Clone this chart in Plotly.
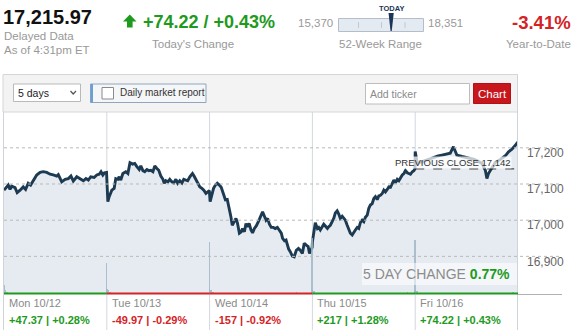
import plotly.graph_objects as go

# ---------------- data ----------------
days = ["Mon 10/12", "Tue 10/13", "Wed 10/14", "Thu 10/15", "Fri 10/16"]
day_change = [47.37, -49.97, -157, 217, 74.22]
day_pct = [0.28, -0.29, -0.92, 1.28, 0.43]

session_minutes = 390

mon_min = [0, 11, 16, 23, 29, 42, 50, 61, 73, 82, 92, 101, 111, 124, 137, 149, 162, 175, 187, 200,
           206, 219, 232, 244, 254, 263, 276, 289, 301, 311, 320, 329, 342, 352, 361, 368, 375, 381, 389]
mon_px = [17083, 17092, 17097, 17085, 17094, 17090, 17076, 17083, 17092, 17085, 17102, 17097, 17109, 17125,
          17132, 17134, 17132, 17127, 17125, 17122, 17126, 17106, 17113, 17115, 17122, 17108, 17120, 17113,
          17109, 17115, 17111, 17120, 17118, 17125, 17127, 17134, 17125, 17131, 17132]

tue_min = [4, 9, 19, 28, 34, 42, 47, 53, 61, 72, 80, 88, 98, 106, 114, 123, 129, 137, 144, 152,
           159, 167, 175, 182, 190, 197, 205, 213, 218, 224, 232, 239, 247, 254, 262, 269, 277, 285, 292, 300,
           307, 315, 325, 331, 338, 345, 353, 361, 368, 376, 383, 389]
tue_px = [17051, 17065, 17083, 17088, 17115, 17113, 17120, 17111, 17129, 17134, 17129, 17159, 17155, 17157,
          17148, 17140, 17150, 17137, 17134, 17140, 17137, 17138, 17134, 17150, 17143, 17138, 17122, 17113,
          17102, 17109, 17106, 17113, 17106, 17103, 17113, 17102, 17109, 17103, 17113, 17111, 17109, 17120,
          17129, 17122, 17113, 17102, 17092, 17088, 17083, 17074, 17078, 17082]

wed_min = [2, 9, 15, 22, 29, 37, 44, 52, 60, 67, 75, 81, 86, 94, 100, 106, 113, 120, 125, 132,
           138, 143, 150, 157, 163, 170, 177, 185, 190, 196, 201, 208, 214, 220, 227, 234, 242, 249, 257, 264,
           272, 277, 284, 290, 295, 300, 306, 314, 321, 329, 337, 344, 352, 359, 367, 374, 379, 389]
wed_px = [17051, 17074, 17088, 17097, 17102, 17097, 17091, 17074, 17056, 17057, 17033, 17009, 16986, 16998,
          17005, 16991, 16964, 16968, 16977, 16968, 16991, 16982, 16991, 16973, 16965, 16977, 16984, 16996,
          17005, 17014, 17023, 17011, 17000, 17005, 16989, 16980, 16980, 16977, 16980, 16973, 16964, 16950,
          16943, 16945, 16931, 16920, 16913, 16901, 16899, 16917, 16922, 16917, 16908, 16936, 16931, 16927,
          16908, 16925]

thu_min = [0, 8, 11, 19, 24, 30, 37, 43, 49, 57, 62, 68, 75, 81, 87, 94, 100, 106, 113, 119,
           125, 132, 138, 144, 151, 157, 163, 170, 176, 182, 189, 195, 201, 208, 214, 220, 227, 233, 239, 246,
           252, 258, 265, 271, 277, 284, 290, 296, 303, 309, 315, 322, 328, 334, 341, 347, 353, 360, 366, 372,
           379, 385, 389]
thu_px = [16940, 16973, 16993, 16977, 16980, 16973, 16984, 16989, 16984, 16977, 16982, 16986, 16996, 17005,
          17020, 17026, 17017, 17005, 17011, 17005, 17000, 16986, 16973, 16964, 16959, 16968, 16973, 16980,
          16977, 16993, 17000, 16996, 17008, 17014, 17033, 17042, 17046, 17060, 17065, 17057, 17067, 17069,
          17074, 17083, 17078, 17085, 17092, 17091, 17102, 17111, 17103, 17113, 17109, 17118, 17125, 17129,
          17137, 17131, 17129, 17127, 17134, 17137, 17142]

fri_min = [0, 8, 19, 38, 57, 76, 87, 101, 120, 133, 145, 152, 158, 178, 201, 224, 239, 253, 266, 272,
           278, 291, 304, 323, 335, 342, 354, 367, 380, 389]
fri_px = [17190, 17157, 17160, 17165, 17170, 17175, 17178, 17180, 17183, 17185, 17203, 17189, 17180, 17176,
          17172, 17168, 17163, 17157, 17138, 17115, 17129, 17143, 17160, 17168, 17174, 17178, 17189, 17196,
          17207, 17216]

# volume (relative units) per day: minute of session, volume
vol_min = [[0, 6, 12, 120, 250, 389], [0, 6, 12, 150, 300, 389], [0, 6, 12, 180, 330, 389],
           [0, 6, 140, 360, 389], [0, 6, 200, 370, 389]]
vol_val = [[20, 8, 5, 3, 3, 68], [11, 8, 5, 3, 3, 114], [11, 8, 5, 3, 4, 123],
           [8, 6, 3, 5, 119], [8, 6, 3, 5, 112]]

last_price = 17215.97
today_change = 74.22
today_pct = 0.43
week52_low = 15370
week52_high = 18351
ytd_pct = -3.41
prev_close = 17141.75
five_day_pct = 0.77
y_ticks = [16900, 17000, 17100, 17200]
y_range = [16796, 17299]
vol_range = [0, 400]

# ---------------- helpers ----------------
W, H = 575, 330
def X(p): return p / W
def Y(p): return 1 - p / H

FONT = "Arial, 'Liberation Sans', sans-serif"
GREEN = "#1e9a1e"
RED = "#d42326"
GRAY = "#999999"
NAVY = "#1c3a52"

day_mins = [mon_min, tue_min, wed_min, thu_min, fri_min]
day_prices = [mon_px, tue_px, wed_px, thu_px, fri_px]
t, p = [], []
for d, (mins, pxs) in enumerate(zip(day_mins, day_prices)):
    t += [d * session_minutes + m for m in mins]
    p += pxs
vt, vv = [], []
for d, (mins, vals) in enumerate(zip(vol_min, vol_val)):
    vt += [d * session_minutes + m for m in mins]
    vv += vals
t_end = len(days) * session_minutes

fig = go.Figure()
fig.add_trace(go.Scatter(x=t, y=p, mode="lines", fill="tozeroy", fillcolor="#e6ebf1",
                         line=dict(color=NAVY, width=2.9), hoverinfo="skip"))
fig.add_trace(go.Bar(x=vt, y=vv, width=6, marker=dict(color="rgba(160,182,200,0.85)", line_width=0),
                     yaxis="y2", hoverinfo="skip"))

shapes = []
annotations = []

def ann(text, x, y, size, color, xanchor="left", family=FONT, **kw):
    d = dict(text=text, x=X(x), y=Y(y), xref="paper", yref="paper", showarrow=False,
             xanchor=xanchor, yanchor="middle", font=dict(size=size, color=color, family=family))
    d.update(kw)
    annotations.append(d)

def rect(x0, y0, x1, y1, fill, line="rgba(0,0,0,0)", lw=1, layer="above"):
    shapes.append(dict(type="rect", xref="paper", yref="paper", x0=X(x0), x1=X(x1), y0=Y(y1), y1=Y(y0),
                       fillcolor=fill, line=dict(color=line, width=lw), layer=layer))

def pline(x0, y0, x1, y1, color, w=1, dash="solid", layer="above"):
    shapes.append(dict(type="line", xref="paper", yref="paper", x0=X(x0), x1=X(x1), y0=Y(y0), y1=Y(y1),
                       line=dict(color=color, width=w, dash=dash), layer=layer))

# ---------------- header ----------------
ann("<b>%s</b>" % f"{last_price:,.2f}", 1, 17.5, 20, "#111111")
ann("Delayed Data", 2, 36, 11.5, GRAY)
ann("As of 4:31pm ET", 2, 50, 11.5, GRAY)

shapes.append(dict(type="path", xref="paper", yref="paper",
                   path="M %f,%f L %f,%f L %f,%f L %f,%f L %f,%f L %f,%f L %f,%f Z" % (
                       X(123), Y(21.5), X(129.8), Y(14.5), X(136.5), Y(21.5), X(132.6), Y(21.5),
                       X(132.6), Y(27.5), X(127), Y(27.5), X(127), Y(21.5)),
                   fillcolor=GREEN, line=dict(width=0)))
ann("<b>%s / %s</b>" % (f"{today_change:+.2f}", f"{today_pct:+.2f}%"), 141, 21.5, 18, GREEN)
ann("Today's Change", 192.5, 43.5, 11.5, GRAY, xanchor="center")

ann(f"{week52_low:,}", 335, 23, 11.5, GRAY, xanchor="right")
ann(f"{week52_high:,}", 426, 23, 11.5, GRAY)
shapes.append(dict(type="rect", xref="paper", yref="paper", x0=X(338.5), x1=X(423.5), y0=Y(31.5), y1=Y(18.5),
                   fillcolor="#e4eaf1", line=dict(color="#b5bec8", width=1)))
for tx in [358.5, 381.5, 405]:
    pline(tx, 22, tx, 28, "#c2c8cf", 1)
frac = (last_price - week52_low) / (week52_high - week52_low)
mx = 338.5 + frac * 85
shapes.append(dict(type="path", xref="paper", yref="paper",
                   path="M %f,%f L %f,%f L %f,%f L %f,%f Z" % (X(mx - 2.6), Y(13), X(mx + 2.6), Y(13),
                                                             X(mx + 0.6), Y(31), X(mx - 0.6), Y(31)),
                   fillcolor="#1b3557", line=dict(width=0)))
ann("<b>TODAY</b>", mx, 8.5, 7.5, "#1b3557", xanchor="center")
ann("52-Week Range", 380, 43.5, 11.5, GRAY, xanchor="center")

ann("<b>%s</b>" % f"{ytd_pct:+.2f}%", 573, 22.5, 18.5, RED, xanchor="right")
ann("Year-to-Date", 573, 43.5, 11.5, GRAY, xanchor="right")

# ---------------- toolbar ----------------
rect(3, 74.5, 517.5, 112, "#f3f3f3", "#d6d6d6", 1, layer="below")
rect(13.5, 84, 80.5, 101.5, "#ffffff", "#b9b9b9", 1)
ann("5 days", 16, 93, 10.5, "#222222")
shapes.append(dict(type="path", xref="paper", yref="paper",
                   path="M %f,%f L %f,%f L %f,%f" % (X(70.5), Y(91), X(73.2), Y(94), X(76), Y(91)),
                   line=dict(color="#555555", width=1.2)))
rect(90.5, 84, 206, 102.5, "#f4f6f8", "#8fa6bd", 1)
rect(90.5, 84, 93, 102.5, "#6e9fd3", "rgba(0,0,0,0)", 0)
rect(102, 87.5, 113.5, 99, "#ffffff", "#8a8a8a", 1)
ann("Daily market report", 118, 92.5, 10, "#333333")
rect(365.5, 83.5, 469.5, 104, "#ffffff", "#bdbdbd", 1)
ann("Add ticker", 367.5, 94, 10.5, "#8a8a8a")
rect(473.5, 83.5, 510.5, 103.5, "#c8161d", "#b01217", 1)
ann("Chart", 492, 93.5, 11.5, "#ffffff", xanchor="center")

# ---------------- chart decorations ----------------
pline(3.5, 112, 3.5, 330, "#cfd4da", 1)
pline(517.5, 74.5, 517.5, 330, "#cfd4da", 1)
for d in range(1, len(days)):
    shapes.append(dict(type="line", xref="x", yref="paper", x0=d * session_minutes, x1=d * session_minutes,
                       y0=Y(330), y1=Y(112), line=dict(color="#d3d8de", width=1), layer="below"))
for v in y_ticks:
    shapes.append(dict(type="line", xref="paper", yref="y", x0=X(4), x1=X(562), y0=v, y1=v,
                       line=dict(color="#b9b9b9", width=1, dash="dot"), layer="above"))
for d, ch in enumerate(day_change):
    shapes.append(dict(type="line", xref="x", yref="paper", x0=d * session_minutes, x1=(d + 1) * session_minutes,
                       y0=Y(293.5), y1=Y(293.5), line=dict(color=GREEN if ch >= 0 else RED, width=2.2)))
pline(518, 294.5, 562, 294.5, "#b0b0b0", 1)

shapes.append(dict(type="line", xref="x", yref="y", x0=(len(days) - 1) * session_minutes, x1=t_end,
                   y0=prev_close, y1=prev_close, line=dict(color="#222222", width=1, dash="dash")))
annotations.append(dict(text="PREVIOUS CLOSE " + f"{round(prev_close):,}", x=X(512), y=Y(162.3),
                        xref="paper", yref="paper", showarrow=False, xanchor="right", yanchor="middle",
                        font=dict(size=9.5, color="#333333", family=FONT),
                        bgcolor="rgba(255,255,255,0.72)", borderpad=0))

rect(362, 263, 517, 285, "rgba(255,255,255,0.55)")
ann("5 DAY CHANGE <b><span style='color:%s'>%s</span></b>" % (GREEN, f"{five_day_pct:.2f}%"),
    512, 273.5, 14, "#8c8c8c", xanchor="right")

for d, (name, ch, pc) in enumerate(zip(days, day_change, day_pct)):
    col = GREEN if ch >= 0 else RED
    annotations.append(dict(text=name, x=d * session_minutes, y=Y(302.5), xref="x", yref="paper",
                            xshift=3, showarrow=False, xanchor="left", yanchor="middle",
                            font=dict(size=11, color="#8a8a8a", family=FONT)))
    annotations.append(dict(text="<b>%s | %s</b>" % (f"{ch:+g}", f"{pc:+.2f}%"), x=d * session_minutes,
                            y=Y(319.5), xref="x", yref="paper", xshift=3, showarrow=False,
                            xanchor="left", yanchor="middle",
                            font=dict(size=11, color=col, family=FONT)))

fig.update_layout(
    width=W, height=H, margin=dict(l=0, r=0, t=0, b=0),
    paper_bgcolor="white", plot_bgcolor="white", showlegend=False,
    font=dict(family=FONT),
    xaxis=dict(domain=[X(4), X(518)], range=[0, t_end], showticklabels=False, showgrid=False,
               zeroline=False, showline=False, ticks="", fixedrange=True),
    yaxis=dict(domain=[Y(294), Y(112)], range=y_range, side="right", tickvals=y_ticks,
               ticktext=[f"{v:,}" for v in y_ticks], showgrid=False, zeroline=False, showline=False,
               ticks="", tickfont=dict(size=12, color="#666666", family=FONT),
               ticklabelstandoff=8, ticklabelshift=5, fixedrange=True),
    yaxis2=dict(domain=[Y(294), Y(112)], range=vol_range, overlaying="y", visible=False, fixedrange=True),
    shapes=shapes, annotations=annotations, bargap=0,
)

fig.write_html("out.html", config={"displayModeBar": False})
